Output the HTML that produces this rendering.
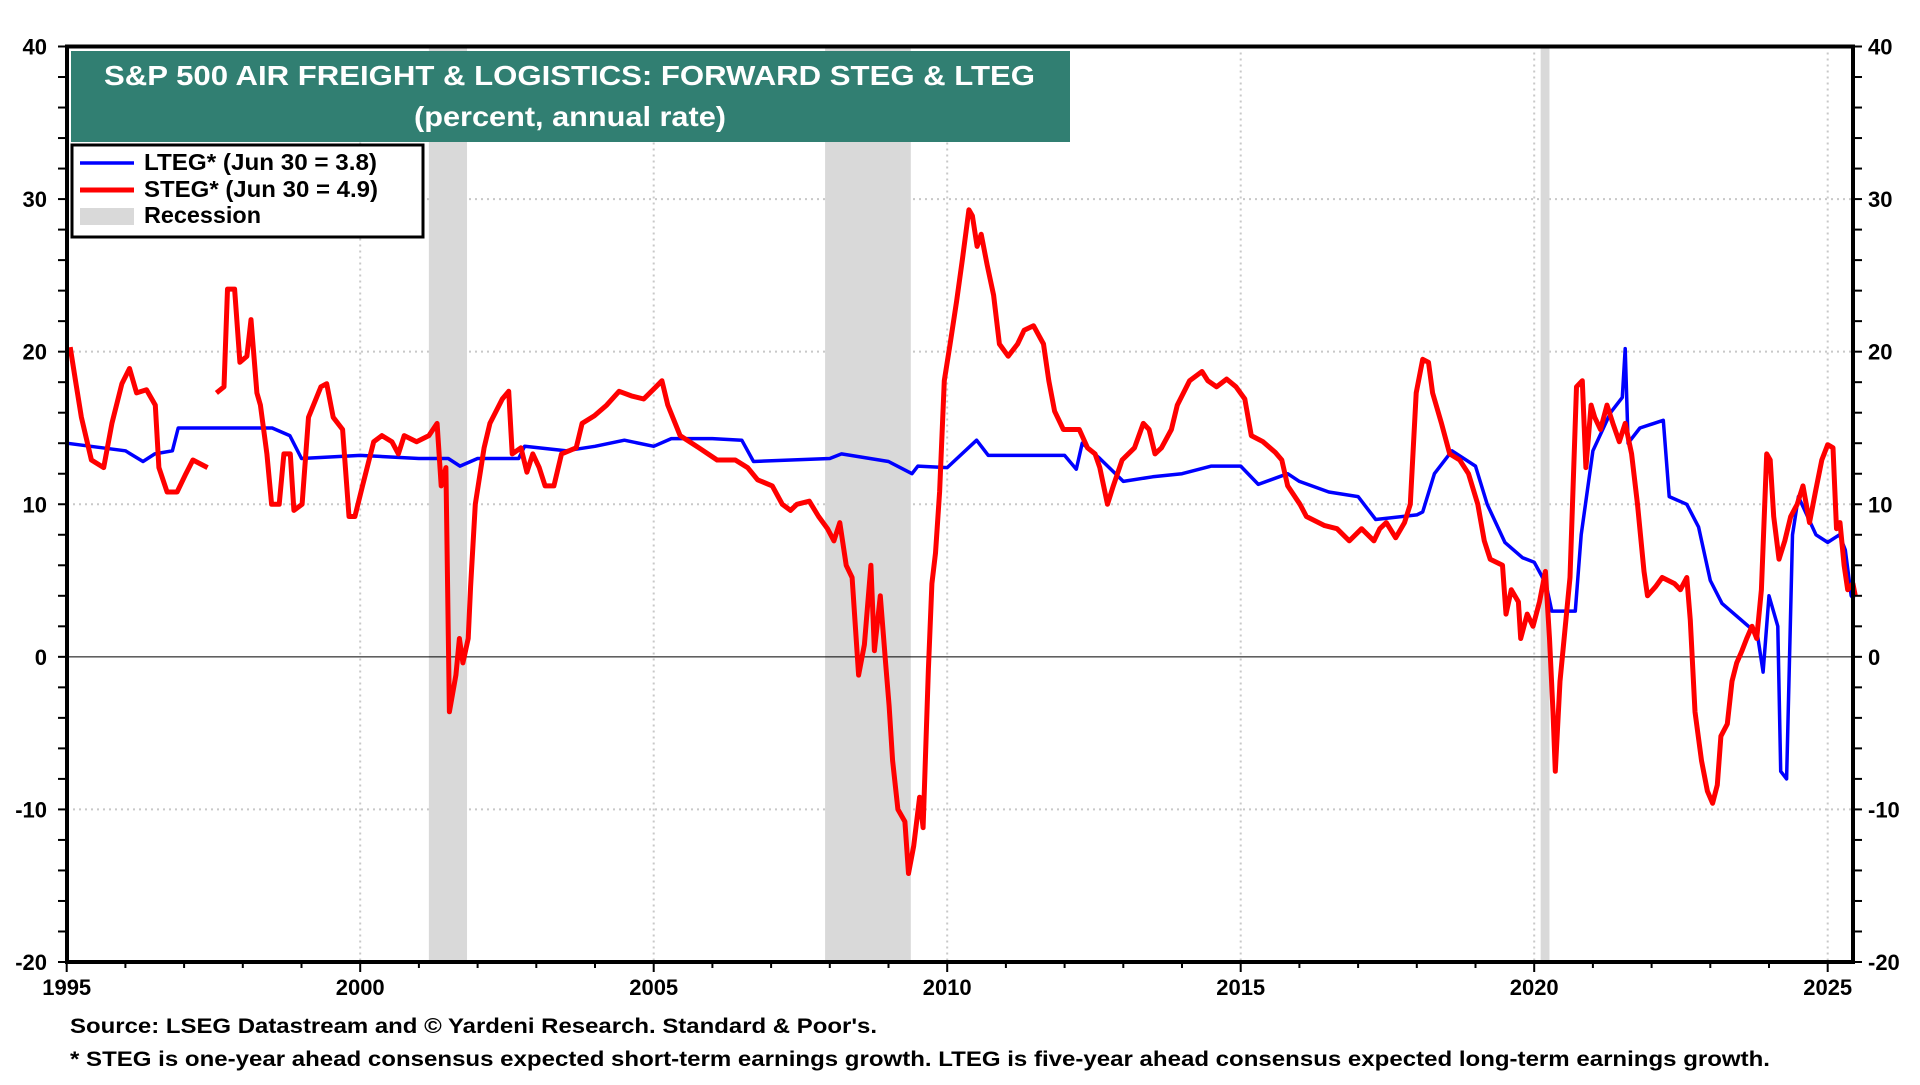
<!DOCTYPE html>
<html><head><meta charset="utf-8"><style>
body{margin:0;background:#fff;}
svg text{font-family:"Liberation Sans",Arial,sans-serif;font-weight:bold;}
</style></head><body>
<svg id="chart" width="1920" height="1080" xmlns="http://www.w3.org/2000/svg">
<g id="grid"></g>
<g id="rec"></g>
<g id="series"></g>
<g id="axes"></g>
<rect x="71" y="51" width="999" height="91" fill="#317f72"/>
<text x="104" y="85" fill="#fff" font-size="28" textLength="931" lengthAdjust="spacingAndGlyphs">S&amp;P 500 AIR FREIGHT &amp; LOGISTICS: FORWARD STEG &amp; LTEG</text>
<text x="414" y="126" fill="#fff" font-size="28" textLength="312" lengthAdjust="spacingAndGlyphs">(percent, annual rate)</text>
<g>
<rect x="72" y="145" width="351" height="92" fill="#fff" stroke="#000" stroke-width="3"/>
<line x1="80" y1="163" x2="134" y2="163" stroke="#0000ff" stroke-width="3.5"/>
<text x="144" y="170" font-size="23" textLength="233" lengthAdjust="spacingAndGlyphs">LTEG* (Jun 30 = 3.8)</text>
<line x1="80" y1="190" x2="134" y2="190" stroke="#ff0000" stroke-width="5"/>
<text x="144" y="197" font-size="23" textLength="234" lengthAdjust="spacingAndGlyphs">STEG* (Jun 30 = 4.9)</text>
<rect x="80" y="208" width="54" height="17" fill="#d9d9d9"/>
<text x="144" y="223" font-size="23" textLength="117" lengthAdjust="spacingAndGlyphs">Recession</text>
</g>
<text x="70" y="1033" font-size="21" textLength="807" lengthAdjust="spacingAndGlyphs">Source: LSEG Datastream and © Yardeni Research. Standard &amp; Poor's.</text>
<text x="70" y="1066" font-size="21" textLength="1700" lengthAdjust="spacingAndGlyphs">* STEG is one-year ahead consensus expected short-term earnings growth. LTEG is five-year ahead consensus expected long-term earnings growth.</text>
</svg>
<script>
const yTicks=[-20,-10,0,10,20,30,40];
const xTicks=[1995,2000,2005,2010,2015,2020,2025];
const recStart=[2001.17,2007.92,2020.11];
const recEnd=[2001.82,2009.38,2020.26];
const ltegYears=[1995,1996,1996.3,1996.5,1996.8,1996.9,1998.5,1998.8,1999,2000,2001,2001.5,2001.7,2002,2002.7,2002.8,2003.5,2004,2004.5,2005,2005.3,2006,2006.5,2006.7,2008,2008.2,2009,2009.4,2009.5,2010,2010.5,2010.7,2012,2012.2,2012.3,2012.6,2013,2013.5,2014,2014.5,2015,2015.3,2015.8,2016,2016.5,2017,2017.3,2018,2018.1,2018.3,2018.6,2019,2019.2,2019.5,2019.8,2020,2020.2,2020.3,2020.7,2020.8,2021,2021.3,2021.5,2021.55,2021.6,2021.8,2022.2,2022.3,2022.6,2022.8,2023,2023.2,2023.5,2023.8,2023.9,2024,2024.15,2024.2,2024.3,2024.4,2024.5,2024.8,2025,2025.2,2025.3,2025.4,2025.45];
const ltegValues=[14,13.5,12.8,13.3,13.5,15,15,14.5,13,13.2,13,13,12.5,13,13,13.8,13.5,13.8,14.2,13.8,14.3,14.3,14.2,12.8,13,13.3,12.8,12,12.5,12.4,14.2,13.2,13.2,12.3,14,13,11.5,11.8,12,12.5,12.5,11.3,12,11.5,10.8,10.5,9,9.3,9.5,12,13.5,12.5,10,7.5,6.5,6.2,4.8,3,3,8,13.5,16,17,20.2,14,15,15.5,10.5,10,8.5,5,3.5,2.5,1.5,-1,4,2,-7.5,-8,8,10.5,8,7.5,8,7,4,3.8];
const stegYears1=[1995.06,1995.15,1995.25,1995.42,1995.63,1995.77,1995.94,1996.07,1996.19,1996.36,1996.51,1996.57,1996.71,1996.88,1997.03,1997.15,1997.40];
const stegValues1=[20.3,18.1,15.7,12.9,12.4,15.3,17.9,18.9,17.3,17.5,16.5,12.4,10.8,10.8,12,12.9,12.4];
const stegYears2=[1997.55,1997.68,1997.74,1997.86,1997.95,1998.07,1998.14,1998.24,1998.30,1998.41,1998.49,1998.62,1998.70,1998.81,1998.87,1999.01,1999.12,1999.33,1999.43,1999.54,1999.70,1999.81,1999.91,2000.04,2000.23,2000.37,2000.54,2000.65,2000.75,2000.96,2001.17,2001.31,2001.38,2001.46,2001.52,2001.63,2001.69,2001.75,2001.84,2001.88,2001.96,2002.11,2002.21,2002.42,2002.53,2002.59,2002.74,2002.84,2002.94,2003.05,2003.15,2003.30,2003.43,2003.68,2003.78,2003.99,2004.20,2004.41,2004.62,2004.83,2005.04,2005.14,2005.24,2005.45,2005.77,2006.08,2006.39,2006.60,2006.77,2007.02,2007.19,2007.33,2007.44,2007.65,2007.81,2007.96,2008.07,2008.17,2008.28,2008.38,2008.49,2008.59,2008.70,2008.76,2008.86,2008.95,2009.01,2009.07,2009.16,2009.28,2009.34,2009.43,2009.53,2009.59,2009.68,2009.74,2009.80,2009.87,2009.95,2010.05,2010.16,2010.26,2010.37,2010.43,2010.51,2010.58,2010.68,2010.79,2010.89,2011.04,2011.20,2011.31,2011.47,2011.64,2011.73,2011.83,2011.98,2012.08,2012.25,2012.39,2012.52,2012.60,2012.73,2012.83,2012.98,2013.19,2013.34,2013.44,2013.54,2013.65,2013.82,2013.92,2014.13,2014.34,2014.44,2014.59,2014.76,2014.92,2015.07,2015.18,2015.38,2015.59,2015.70,2015.80,2016.01,2016.12,2016.43,2016.64,2016.85,2017.06,2017.27,2017.37,2017.48,2017.64,2017.79,2017.89,2017.99,2018.10,2018.20,2018.27,2018.42,2018.56,2018.73,2018.88,2019.04,2019.15,2019.25,2019.46,2019.52,2019.61,2019.73,2019.77,2019.88,2019.98,2020.09,2020.19,2020.26,2020.32,2020.36,2020.44,2020.53,2020.61,2020.72,2020.82,2020.88,2020.97,2021.03,2021.13,2021.24,2021.34,2021.45,2021.55,2021.66,2021.76,2021.87,2021.93,2022.07,2022.18,2022.39,2022.49,2022.60,2022.66,2022.74,2022.85,2022.95,2023.04,2023.12,2023.18,2023.29,2023.37,2023.45,2023.54,2023.62,2023.71,2023.79,2023.87,2023.96,2024.02,2024.08,2024.17,2024.27,2024.37,2024.48,2024.58,2024.69,2024.79,2024.90,2025.00,2025.09,2025.15,2025.21,2025.28,2025.34,2025.43,2025.47];
const stegValues2=[17.3,17.7,24.1,24.1,19.3,19.7,22.1,17.3,16.5,13.3,10,10,13.3,13.3,9.6,10,15.7,17.7,17.9,15.7,14.9,9.2,9.2,11.2,14.1,14.5,14.1,13.3,14.5,14.1,14.5,15.3,11.2,12.4,-3.6,-1.2,1.2,-0.4,1.2,4.6,10,13.7,15.3,16.9,17.4,13.3,13.7,12.1,13.3,12.4,11.2,11.2,13.3,13.7,15.3,15.8,16.5,17.4,17.1,16.9,17.7,18.1,16.5,14.5,13.7,12.9,12.9,12.4,11.6,11.2,10,9.6,10,10.2,9.2,8.4,7.6,8.8,6,5.2,-1.2,0.8,6,0.4,4,-0.4,-3.2,-6.8,-10,-10.8,-14.2,-12.4,-9.2,-11.2,-0.8,4.8,6.8,10.8,18.1,20.5,23.3,26.1,29.3,28.9,26.9,27.7,25.7,23.7,20.5,19.7,20.5,21.4,21.7,20.5,18.1,16.1,14.9,14.9,14.9,13.7,13.3,12.4,10,11.2,12.9,13.7,15.3,14.9,13.3,13.7,14.9,16.5,18.1,18.7,18.1,17.7,18.2,17.7,16.9,14.5,14.1,13.4,12.9,11.2,10,9.2,8.6,8.4,7.6,8.4,7.6,8.4,8.8,7.8,8.8,10,17.3,19.5,19.3,17.3,15.3,13.3,12.9,12,10,7.6,6.4,6,2.8,4.4,3.6,1.2,2.8,2,3.6,5.6,1.2,-3.6,-7.5,-1.6,2,5.2,17.7,18.1,12.4,16.5,15.7,14.9,16.5,15.3,14.1,15.3,13.3,10,5.6,4,4.6,5.2,4.8,4.4,5.2,2.4,-3.6,-6.8,-8.8,-9.6,-8.4,-5.2,-4.4,-1.6,-0.4,0.4,1.2,2,1.2,4.4,13.3,12.9,9.2,6.4,7.6,9.2,10,11.2,8.8,10.8,12.9,13.9,13.7,8.4,8.8,6,4.4,4.8,4];

const L=67,R=1853,T=46.5,B=962;
const x=yr=>66.7+(yr-1995)*58.7;
const y=v=>T+(40-v)*(B-T)/60;
const NS='http://www.w3.org/2000/svg';
function mk(tag,attrs,parent){const e=document.createElementNS(NS,tag);for(const k in attrs)e.setAttribute(k,attrs[k]);parent.appendChild(e);return e;}
const grid=document.getElementById('grid'),rec=document.getElementById('rec'),ser=document.getElementById('series'),ax=document.getElementById('axes');
yTicks.forEach(v=>{
  if(v>-20&&v<40&&v!==0){const g=mk('line',{x1:L,x2:R,y1:y(v),y2:y(v),stroke:'#c8c8c8','stroke-width':2,'stroke-dasharray':'2,4'},grid);
  
  }
  const t1=mk('text',{x:47,y:y(v)+8,'font-size':22,'text-anchor':'end'},ax);t1.textContent=v;
  
  
  const t2=mk('text',{x:1868,y:y(v)+8,'font-size':22,'text-anchor':'start'},ax);t2.textContent=v;
  
  
});
for(let v=-20;v<=40;v+=2){mk('line',{x1:L-9,x2:L,y1:y(v),y2:y(v),stroke:'#000','stroke-width':2},ax);mk('line',{x1:R,x2:R+9,y1:y(v),y2:y(v),stroke:'#000','stroke-width':2},ax);}
xTicks.forEach(yr=>{
  if(yr>1995){const g=mk('line',{x1:x(yr),x2:x(yr),y1:T,y2:B,stroke:'#c8c8c8','stroke-width':2,'stroke-dasharray':'2,4'},grid);
  
  }
  const t=mk('text',{x:x(yr),y:995,'font-size':22,'text-anchor':'middle'},ax);t.textContent=yr;
  
  
});
for(let yr=1995;yr<=2025;yr++){mk('line',{x1:x(yr),x2:x(yr),y1:B,y2:B+(yr%5===0?10:6),stroke:'#000','stroke-width':2},ax);}
recStart.forEach((s,i)=>{const r=mk('rect',{x:x(s),y:T,width:x(recEnd[i])-x(s),height:B-T,fill:'#d9d9d9'},rec);
  
  });
const zl=mk('line',{x1:L,x2:R,y1:y(0),y2:y(0),stroke:'#000','stroke-width':1},ser);


function path(xs,vs,color,w,name){const d=xs.map((a,i)=>(i?'L':'M')+x(a).toFixed(1)+','+y(vs[i]).toFixed(1)).join('');
  const p=mk('path',{d:d,fill:'none',stroke:color,'stroke-width':w,'stroke-linejoin':'round'},ser);
  
  }
path(ltegYears,ltegValues,'#0000ff',3.5,'lteg-line');
path(stegYears1,stegValues1,'#ff0000',5,'steg-line-segment-1');
path(stegYears2,stegValues2,'#ff0000',5,'steg-line-segment-2');
const fr=mk('rect',{x:L,y:T,width:R-L,height:B-T,fill:'none',stroke:'#000','stroke-width':4},ax);


</script>
</body></html>
